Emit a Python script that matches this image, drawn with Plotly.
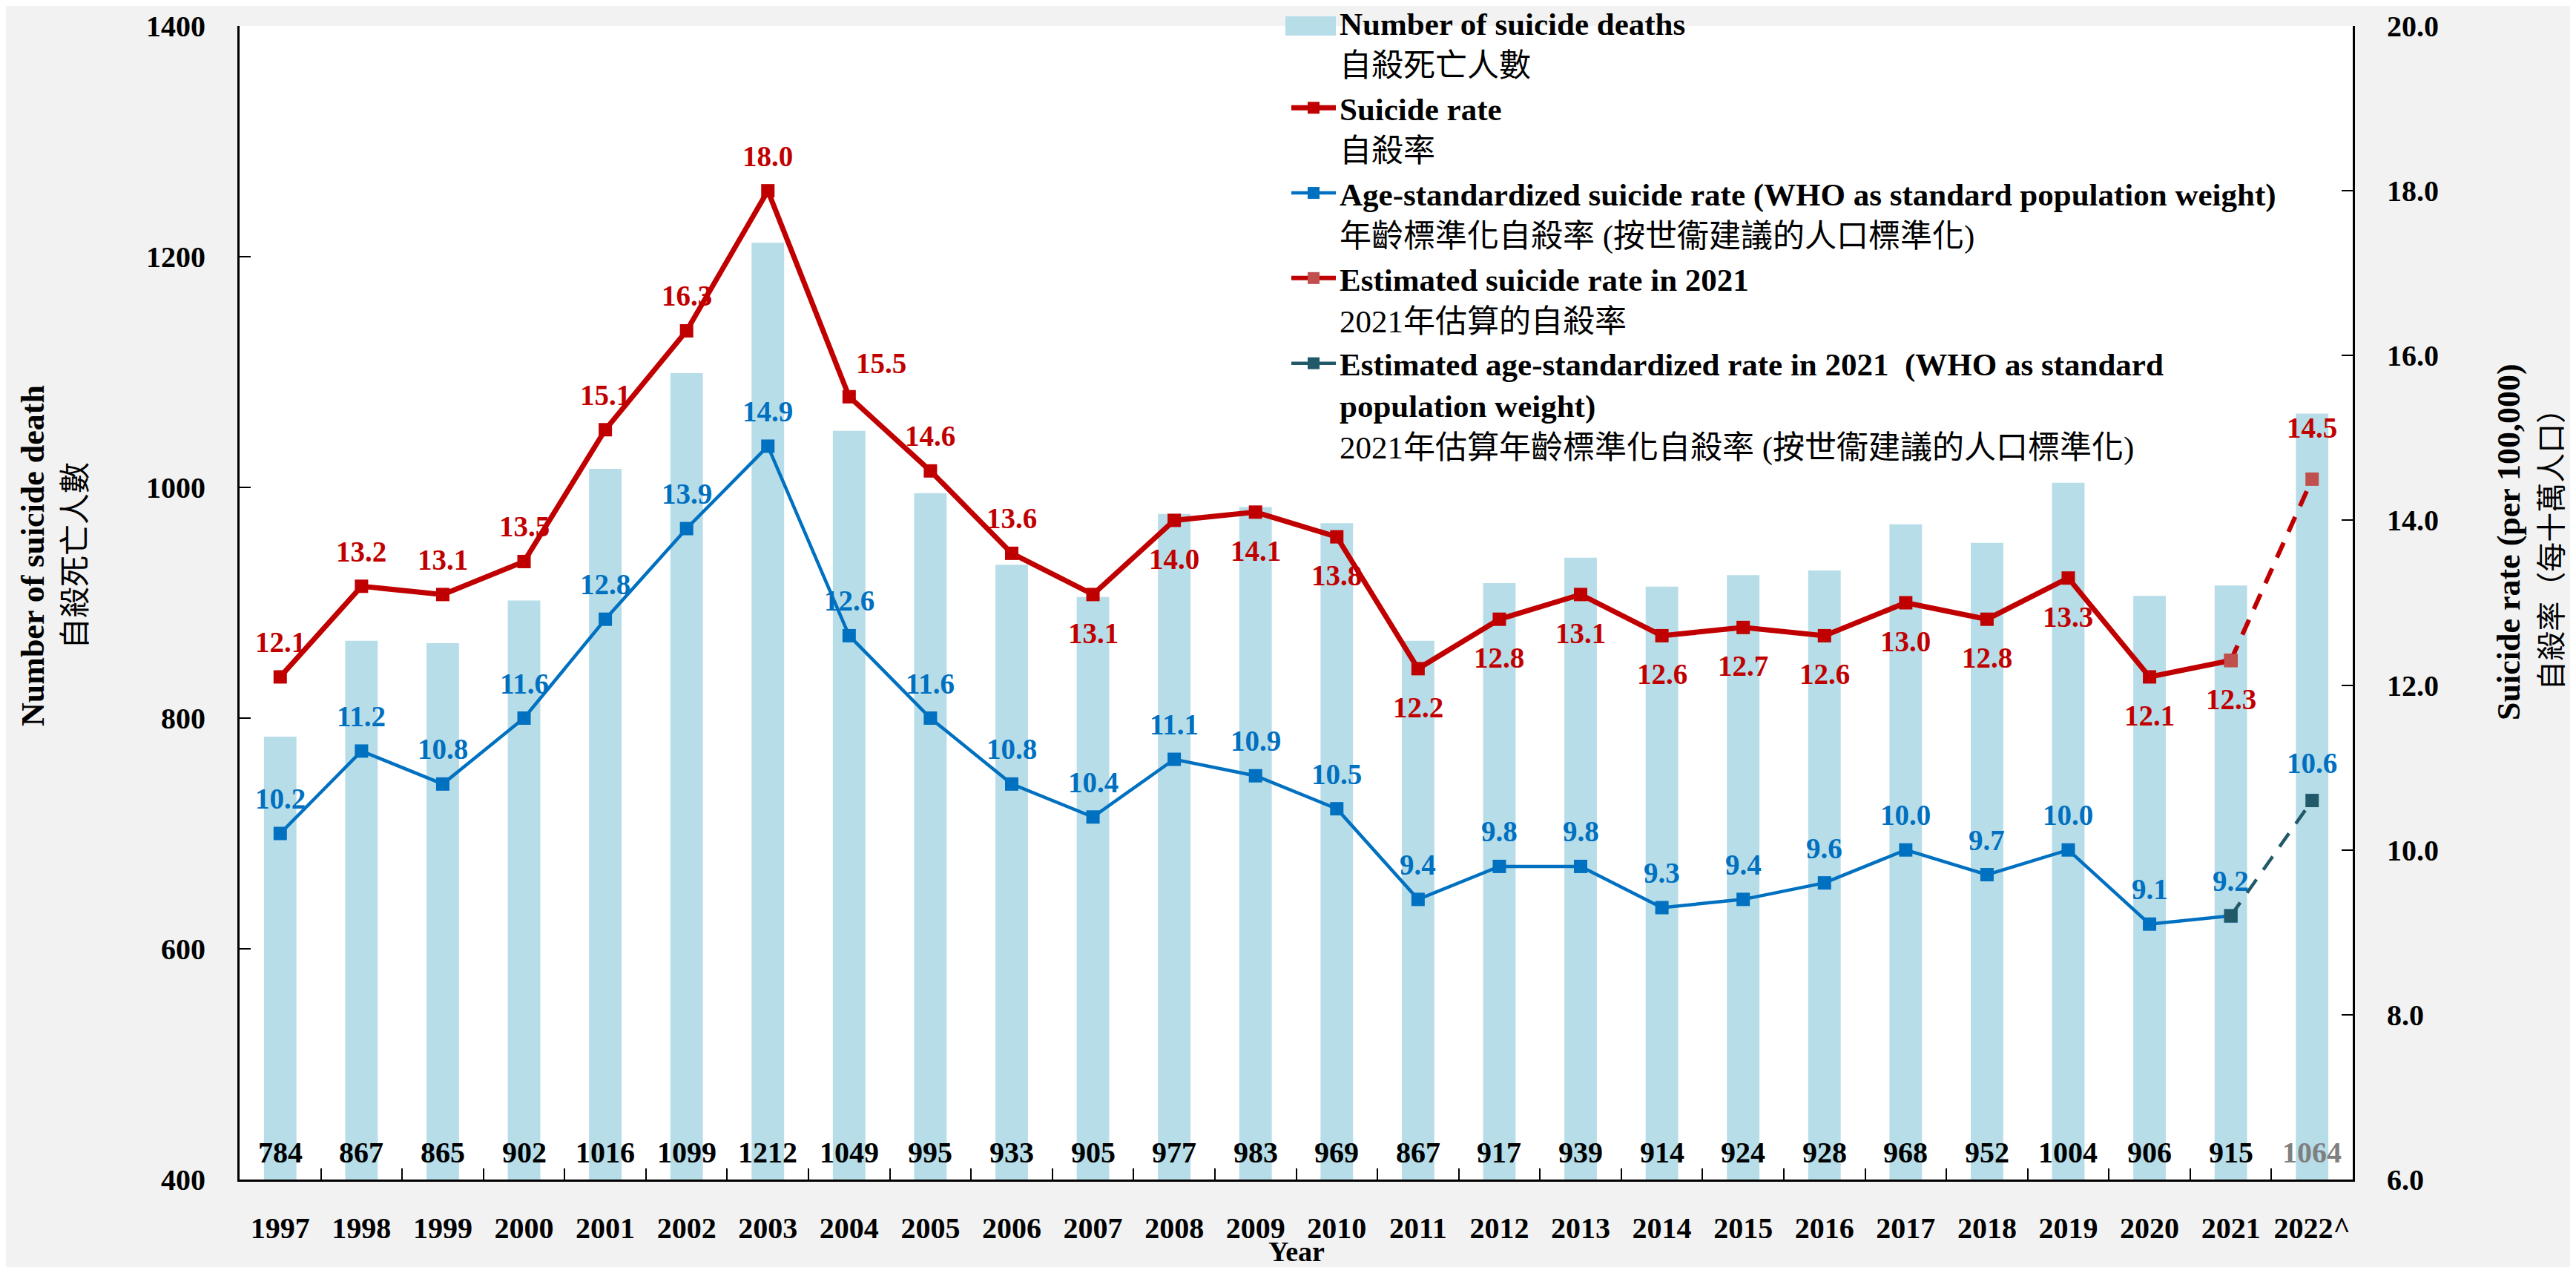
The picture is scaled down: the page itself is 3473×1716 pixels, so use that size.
import plotly.graph_objects as go

# ---- data ----
years = ['1997', '1998', '1999', '2000', '2001', '2002', '2003', '2004', '2005', '2006',
         '2007', '2008', '2009', '2010', '2011', '2012', '2013', '2014', '2015', '2016',
         '2017', '2018', '2019', '2020', '2021', '2022^']
deaths = [784, 867, 865, 902, 1016, 1099, 1212, 1049, 995, 933, 905, 977, 983, 969, 867,
          917, 939, 914, 924, 928, 968, 952, 1004, 906, 915, 1064]
rate_years = years[:25]
suicide_rate = [12.1, 13.2, 13.1, 13.5, 15.1, 16.3, 18.0, 15.5, 14.6, 13.6, 13.1, 14.0, 14.1,
                13.8, 12.2, 12.8, 13.1, 12.6, 12.7, 12.6, 13.0, 12.8, 13.3, 12.1, 12.3]
age_std_rate = [10.2, 11.2, 10.8, 11.6, 12.8, 13.9, 14.9, 12.6, 11.6, 10.8, 10.4, 11.1, 10.9,
                10.5, 9.4, 9.8, 9.8, 9.3, 9.4, 9.6, 10.0, 9.7, 10.0, 9.1, 9.2]
est_years = ['2021', '2022^']
est_rate = [12.3, 14.5]
est_age_rate = [9.2, 10.6]
# where the suicide-rate label sits relative to its point
rate_label_side = ['above'] * 10 + ['below'] * 15

left_range = [400, 1400]
right_range = [6, 20]

# ---- styling ----
W, H = 3473, 1716
BODY = 8  # default page margin around the plot div
ML, MR, MT, MB = 323, 301, 35, 126
PW, PH = W - ML - MR, H - MT - MB
FONT = 'Liberation Serif, "Noto Sans CJK TC", serif'
RED = '#c00000'
BLUE = '#0070c0'
EST_RED = '#c0504d'
TEAL = '#215968'
BAR = '#b7dde8'


def px_x(p):
    return (p - ML) / PW


def px_y(p):
    return (H - MB - p) / PH


def idx(cat):
    return years.index(cat)


fig = go.Figure()

fig.add_trace(go.Bar(
    x=years, y=deaths, name='<b>Number of suicide deaths</b><br>自殺死亡人數',
    marker=dict(color=BAR, line=dict(width=0)), yaxis='y'
))
fig.add_trace(go.Scatter(
    x=rate_years, y=suicide_rate, name='<b>Suicide rate</b><br>自殺率',
    mode='lines+markers', yaxis='y2',
    line=dict(color=RED, width=7), marker=dict(symbol='square', size=18, color=RED)
))
fig.add_trace(go.Scatter(
    x=rate_years, y=age_std_rate,
    name='<b>Age-standardized suicide rate (WHO as standard population weight)</b><br>年齡標準化自殺率 (按世衞建議的人口標準化)',
    mode='lines+markers', yaxis='y2',
    line=dict(color=BLUE, width=4.5), marker=dict(symbol='square', size=18, color=BLUE)
))
fig.add_trace(go.Scatter(
    x=est_years, y=est_rate, name='<b>Estimated suicide rate in 2021</b><br>2021年估算的自殺率',
    mode='lines+markers', yaxis='y2',
    line=dict(color=RED, width=6, dash='22px,16px'),
    marker=dict(symbol='square', size=18, color=EST_RED)
))
fig.add_trace(go.Scatter(
    x=est_years, y=est_age_rate,
    name='<b>Estimated age-standardized rate in 2021  (WHO as standard<br>population weight)</b><br>2021年估算年齡標準化自殺率 (按世衞建議的人口標準化)',
    mode='lines+markers', yaxis='y2',
    line=dict(color=TEAL, width=4.5, dash='22px,16px'),
    marker=dict(symbol='square', size=18, color=TEAL)
))

annotations = []
# bar value labels at the foot of each bar
for i, (yr, d) in enumerate(zip(years, deaths)):
    annotations.append(dict(
        x=idx(yr), y=left_range[0], yref='y', text=f'<b>{d}</b>', showarrow=False,
        yanchor='middle', yshift=37,
        font=dict(size=40, color='#7f7f7f' if i == len(years) - 1 else 'black')
    ))
# suicide rate labels
for yr, v, side in zip(rate_years, suicide_rate, rate_label_side):
    ann = dict(x=idx(yr), y=v, yref='y2', text=f'<b>{v:.1f}</b>', showarrow=False,
               yanchor='middle', yshift=47 if side == 'above' else -52,
               font=dict(size=39, color=RED))
    if yr == '2004':
        ann['xshift'] = 43
        ann['yshift'] = 45
    annotations.append(ann)
# age-standardised labels
for yr, v in zip(rate_years, age_std_rate):
    annotations.append(dict(x=idx(yr), y=v, yref='y2', text=f'<b>{v:.1f}</b>', showarrow=False,
                            yanchor='middle', yshift=47, font=dict(size=39, color=BLUE)))
# estimated labels (last point only)
annotations.append(dict(x=idx(est_years[-1]), y=est_rate[-1], yref='y2',
                        text=f'<b>{est_rate[-1]:.1f}</b>', showarrow=False,
                        yanchor='middle', yshift=69, font=dict(size=39, color=RED)))
annotations.append(dict(x=idx(est_years[-1]), y=est_age_rate[-1], yref='y2',
                        text=f'<b>{est_age_rate[-1]:.1f}</b>', showarrow=False,
                        yanchor='middle', yshift=51, font=dict(size=39, color=BLUE)))
# axis titles
annotations.append(dict(xref='paper', yref='paper', x=px_x(72), y=px_y(749),
                        text='<b>Number of suicide death</b><br><span style="font-size:42px">自殺死亡人數</span>',
                        textangle=-90, showarrow=False, xanchor='center', yanchor='middle',
                        font=dict(size=44, color='black')))
annotations.append(dict(xref='paper', yref='paper', x=px_x(3410), y=px_y(730),
                        text='<b>Suicide rate (per 100,000)</b><br><span style="font-size:40px">自殺率（每十萬人口）</span>',
                        textangle=-90, showarrow=False, xanchor='center', yanchor='middle',
                        font=dict(size=44, color='black')))
annotations.append(dict(xref='paper', yref='paper', x=0.5, y=px_y(1687),
                        text='<b>Year</b>', showarrow=False, xanchor='center', yanchor='middle',
                        font=dict(size=38, color='black')))

# wide swatch behind the bar legend entry, as in the reference
shapes = [dict(type='rect', xref='paper', yref='paper', layer='above',
               x0=px_x(1733), x1=px_x(1801), y0=px_y(48), y1=px_y(22),
               fillcolor=BAR, line=dict(width=0))]

fig.update_layout(
    width=W - 2 * BODY, height=H - 2 * BODY,
    margin=dict(l=ML - BODY, r=MR - BODY, t=MT - BODY, b=MB - BODY, pad=0, autoexpand=False),
    paper_bgcolor='#f2f2f2', plot_bgcolor='white',
    font=dict(family=FONT, size=40, color='black'),
    bargap=0.6,
    showlegend=True,
    legend=dict(x=px_x(1736), y=px_y(-4), xanchor='left', yanchor='top',
                bgcolor='rgba(0,0,0,0)', font=dict(size=43), valign='top',
                itemwidth=60, tracegroupgap=0),
    xaxis=dict(type='category', range=[-0.5, len(years) - 0.5], automargin=False,
               showline=True, linewidth=3, linecolor='black',
               ticks='inside', ticklen=15, tickwidth=2, tickcolor='black',
               tickson='boundaries', showgrid=False, tickangle=0,
               tickfont=dict(size=40), ticklabelstandoff=28,
               tickprefix='<b>', ticksuffix='</b>'),
    yaxis=dict(range=left_range, dtick=200, showline=True, linewidth=3, linecolor='black',
               ticks='inside', ticklen=15, tickwidth=2, tickcolor='black', showgrid=False,
               zeroline=False, tickfont=dict(size=40), ticklabelstandoff=35, automargin=False,
               tickprefix='<b>', ticksuffix='</b>'),
    yaxis2=dict(range=right_range, dtick=2, tickformat='.1f', overlaying='y', side='right',
                showline=True, linewidth=3, linecolor='black', ticks='inside', ticklen=15,
                tickwidth=2, tickcolor='black', showgrid=False, zeroline=False,
                tickfont=dict(size=40), ticklabelstandoff=35, automargin=False,
                tickprefix='<b>', ticksuffix='</b>'),
    annotations=annotations,
    shapes=shapes,
)

fig.write_html("out.html")
